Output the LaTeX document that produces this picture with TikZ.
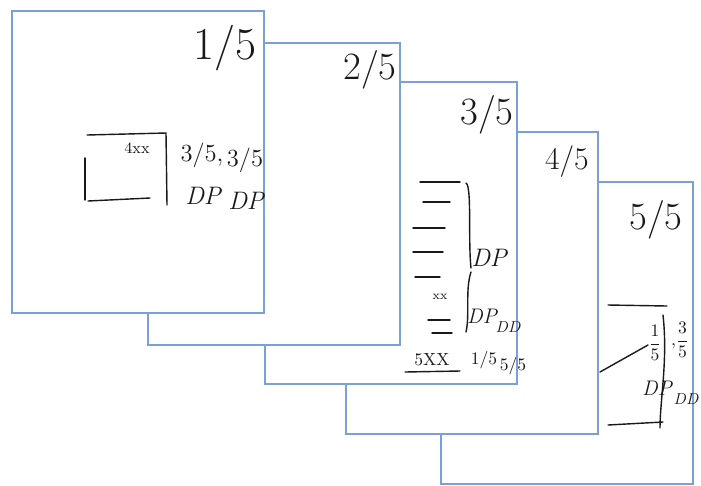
\documentclass[tikz,border=0pt]{standalone}
\usepackage{amsmath}
\usepackage{tikz}
\usetikzlibrary{positioning}
\definecolor{pgblue}{RGB}{122, 160, 212}
\definecolor{ink}{RGB}{25, 25, 25}

\begin{document}
\begin{tikzpicture}[x=0.02cm, y=-0.02cm,
    page/.style={draw=pgblue, line width=0.9pt, fill=white, minimum width=5.04cm,
                 minimum height=6.04cm, inner sep=0pt, outer sep=0pt, anchor=north west},
    pgnum/.style={text=ink, font=\fontsize{22}{22}\selectfont, anchor=north east, inner sep=0pt},
    scrib/.style={text=ink, font=\fontsize{14}{14}\selectfont, inner sep=0pt},
    pen/.style={draw=ink, line width=0.8pt, line cap=round}]
  \useasboundingbox (0,0) rectangle (701,485);

  % page 5 (bottom of the pile)
  \node[page] (p5) at (441,182) {};
  \node[pgnum, below left=0.36cm and 0.2cm of p5.north east] (n5) {5/5};
  \draw[pen] (608,305) -- (667,306);
  \draw[pen] (608,425) -- (663,422);
  \draw[pen] (600,372) -- (648,345);
  \draw[pen] (663,315) .. controls (668,360) and (660,400) .. (660,428);
  \node[scrib, font=\normalsize] (f5a) at (655,343) {$\dfrac{1}{5}$};
  \node[scrib, font=\normalsize] (f5b) at (680,340) {,$\dfrac{3}{5}$};
  \node[scrib, font=\large\itshape] (d5a) at (657,388) {DP};
  \node[scrib, font=\small\itshape] (d5b) at (686,399) {DD};

  % page 4
  \node[page] (p4) at (346,132) {};
  \node[pgnum, font=\fontsize{18}{18}\selectfont, below left=0.26cm and 0.18cm of p4.north east] (n4) {4/5};

  % page 3
  \node[page] (p3) at (265,82) {};
  \node[pgnum, below left=0.26cm and 0.06cm of p3.north east] (n3) {3/5};
  \foreach \ya/\xa/\xb in {182/420/460, 202/423/450, 228/413/445, 252/413/443,
                           277/415/440, 320/428/450, 333/432/452}
    \draw[pen] (\xa,\ya) -- (\xb,\ya);
  \node[scrib, font=\scriptsize] (x3) at (440,297) {xx};
  \draw[pen] (466,183) .. controls (472,186) and (468,240) .. (471,268);
  \draw[pen] (471,272) .. controls (465,290) and (470,315) .. (466,332);
  \node[scrib, font=\Large\itshape] (d3a) at (489,258) {DP};
  \node[scrib, font=\large\itshape] (d3b) at (482,316) {DP};
  \node[scrib, font=\small\itshape] (d3c) at (508,327) {DD};
  \node[scrib, font=\normalsize] (s3) at (432,360) {5XX};
  \draw[pen] (405,372) -- (460,371);
  \node[scrib, font=\normalsize] (f3a) at (484,360) {1/5};
  \node[scrib, font=\normalsize] (f3b) at (513,366) {5/5};

  % page 2
  \node[page] (p2) at (148,43) {};
  \node[pgnum, below left=0.14cm and 0.06cm of p2.north east] (n2) {2/5};

  % page 1 (top of the pile)
  \node[page] (p1) at (12,11) {};
  \node[pgnum, font=\fontsize{26}{26}\selectfont, below left=0.28cm and 0.14cm of p1.north east] (n1) {1/5};
  \draw[pen] (87,135) -- (166,133) -- (167,205);
  \draw[pen] (85,158) -- (85,200);
  \draw[pen] (88,201) -- (150,198);
  \node[scrib, font=\small] (q1) at (137,148) {4xx};
  \node[scrib] (f1a) at (202,155) {3/5,};
  \node[scrib] (f1b) at (245,160) {3/5};
  \node[scrib, font=\Large\itshape] (d1a) at (203,196) {DP};
  \node[scrib, font=\Large\itshape] (d1b) at (246,201) {DP};
\end{tikzpicture}
\end{document}
